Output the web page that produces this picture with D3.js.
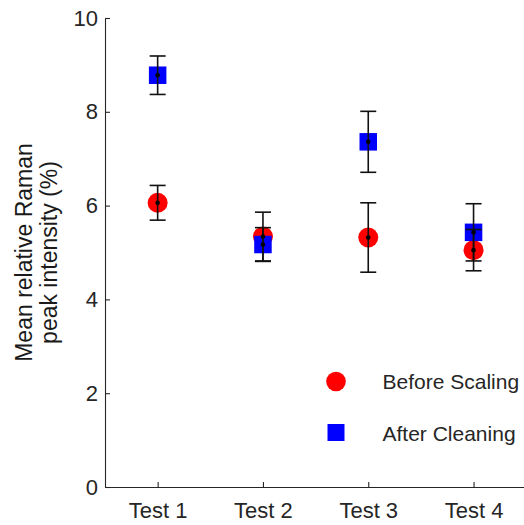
<!DOCTYPE html>
<html>
<head>
<meta charset="utf-8">
<script src="https://cdn.jsdelivr.net/npm/d3@7"></script>
<style>
  html, body { margin: 0; padding: 0; background: #fff; }
  svg { display: block; font-family: "Liberation Sans", Arial, sans-serif; }
</style>
</head>
<body>
<svg id="chart" width="524" height="525"></svg>
<script>
// Test groups and mean relative Raman peak intensity (%) with error half-widths
const categories = ["Test 1", "Test 2", "Test 3", "Test 4"];
const beforeMean = [6.06, 5.34, 5.32, 5.05];
const beforeErr  = [0.37, 0.52, 0.74, 0.44];
const afterMean  = [8.78, 5.17, 7.36, 5.43];
const afterErr   = [0.41, 0.36, 0.65, 0.61];
const yTicks = [0, 2, 4, 6, 8, 10];
const seriesNames = ["Before Scaling", "After Cleaning"];
const yLabelLines = ["Mean relative Raman", "peak intensity (%)"];

const svg = d3.select("#chart");
const plotLeft = 105, plotTop = 18, plotBottom = 487, step = 105.3;

const x = d3.scaleLinear().domain([0.5, 4.5]).range([plotLeft, plotLeft + 4 * step]);
const y = d3.scaleLinear().domain([0, 10]).range([plotBottom, plotTop]);

const axisColor = "#262626";

// Axes with inward ticks
const gy = svg.append("g").attr("transform", `translate(${plotLeft},0)`)
  .call(d3.axisLeft(y).tickValues(yTicks).tickSizeInner(-5).tickSizeOuter(0).tickPadding(7));
const gx = svg.append("g").attr("transform", `translate(0,${plotBottom})`)
  .call(d3.axisBottom(x).tickValues([1, 2, 3, 4]).tickFormat((d) => categories[d - 1])
    .tickSizeInner(-5).tickSizeOuter(0).tickPadding(15.5));
[gy, gx].forEach((g) => {
  g.select(".domain").attr("stroke", axisColor).attr("stroke-width", 1.1);
  g.selectAll(".tick line").attr("stroke", axisColor).attr("stroke-width", 1.1);
  g.selectAll(".tick text").attr("fill", axisColor)
    .style("font-family", '"Liberation Sans", Arial, sans-serif').style("font-size", "22px");
});

// Y-axis title on two lines
const yl = svg.append("text")
  .attr("transform", `translate(0,${(plotTop + plotBottom) / 2}) rotate(-90)`)
  .attr("text-anchor", "middle").attr("fill", "#1a1a1a").style("font-size", "23px");
yLabelLines.forEach((t, i) => yl.append("tspan").attr("x", 0).attr("y", 32 + i * 25).text(t));

const idx = d3.range(categories.length);

// Markers
svg.append("g").selectAll("circle").data(idx).join("circle")
  .attr("cx", (i) => x(i + 1)).attr("cy", (i) => y(beforeMean[i]))
  .attr("r", 10).attr("fill", "#ff0000");
const sq = 17.5;
svg.append("g").selectAll("rect").data(idx).join("rect")
  .attr("x", (i) => x(i + 1) - sq / 2).attr("y", (i) => y(afterMean[i]) - sq / 2)
  .attr("width", sq).attr("height", sq).attr("fill", "#0000ff");

// Error bars with caps and centre dots
const bars = [];
idx.forEach((i) => {
  bars.push({ c: i + 1, m: beforeMean[i], e: beforeErr[i] });
  bars.push({ c: i + 1, m: afterMean[i], e: afterErr[i] });
});
const cap = 8;
const eb = svg.append("g").attr("stroke", "#111").attr("stroke-width", 1.6);
bars.forEach((b) => {
  const cx = x(b.c), y1 = y(b.m + b.e), y0 = y(b.m - b.e);
  eb.append("line").attr("x1", cx).attr("x2", cx).attr("y1", y1).attr("y2", y0);
  eb.append("line").attr("x1", cx - cap).attr("x2", cx + cap).attr("y1", y1).attr("y2", y1);
  eb.append("line").attr("x1", cx - cap).attr("x2", cx + cap).attr("y1", y0).attr("y2", y0);
});
svg.append("g").selectAll("circle").data(bars).join("circle")
  .attr("cx", (b) => x(b.c)).attr("cy", (b) => y(b.m)).attr("r", 2.3).attr("fill", "#000");

// Legend
const lg = svg.append("g");
lg.append("circle").attr("cx", 336).attr("cy", 381.5).attr("r", 9.8).attr("fill", "#ff0000");
lg.append("rect").attr("x", 336 - 8.5).attr("y", 432.5 - 8.5).attr("width", 17).attr("height", 17).attr("fill", "#0000ff");
seriesNames.forEach((t, i) => {
  lg.append("text").attr("x", 382.5).attr("y", 389 + i * 51.5)
    .attr("fill", axisColor).style("font-size", "21px").text(t);
});
</script>
</body>
</html>
